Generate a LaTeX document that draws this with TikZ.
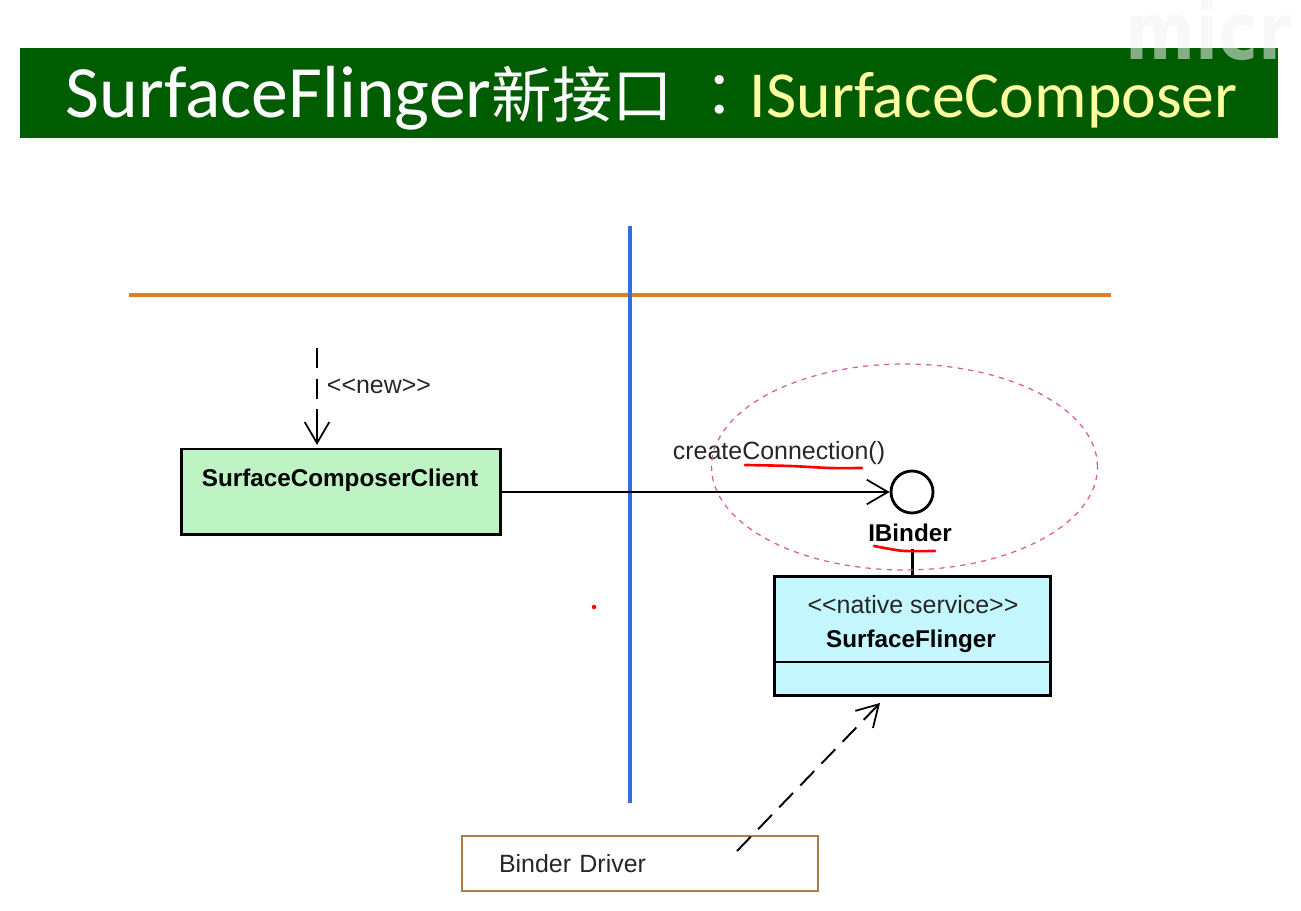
\documentclass[tikz,border=0pt]{standalone}
\usepackage{fontspec}
\setmainfont{Liberation Sans}
\newfontfamily\titlefont{Carlito}
\newfontfamily\titlecjk{Noto Sans CJK TC}
\newfontfamily\markfont{DejaVu Sans}
\usetikzlibrary{arrows.meta, shapes.geometric}
\definecolor{titlegreen}{RGB}{0,92,0}
\definecolor{titleyellow}{RGB}{255,255,160}
\definecolor{clientgreen}{RGB}{190,243,196}
\definecolor{flingerblue}{RGB}{196,247,255}
\definecolor{driverbrown}{RGB}{170,125,75}
\definecolor{ovalpink}{RGB}{214,90,160}
\definecolor{lineorange}{RGB}{226,125,30}
\definecolor{lineblue}{RGB}{50,110,225}
\tikzset{
	classbox/.style={draw=black, line width=1.7pt, minimum width=#1, inner sep=0pt},
	plainlabel/.style={font=\fontsize{14.2}{17}\selectfont, inner sep=0pt, text=black!85},
	boldlabel/.style={font=\fontsize{13.8}{16}\selectfont\bfseries, inner sep=0pt},
	barb/.style={-{Straight Barb[length=12pt, width=14pt, line width=1pt]}},
	pen/.style={red, line width=1.5pt, line cap=round},
}
\begin{document}
\begin{tikzpicture}[x=0.02cm, y=-0.02cm]
	\useasboundingbox (0,0) rectangle (1301,911);

	\node[fill=titlegreen, minimum width=25.16cm, minimum height=1.8cm, inner sep=0pt, text=white, font=\titlefont] (titlebar) at (649,93) {\raisebox{-14.2pt}[0pt][0pt]{\hspace{3pt}\fontsize{42}{46}\selectfont SurfaceFlinger{\titlecjk\fontsize{34.4}{46}\selectfont 新接口\hspace{9.4pt}：}\textcolor{titleyellow}{\fontsize{37.4}{46}\selectfont ISurfaceComposer}}};
	\node[text=black!5, text opacity=0.55, font=\fontsize{45}{54}\selectfont\markfont\bfseries, anchor=base west, inner sep=0pt, xscale=0.85] (watermark) at (1125,60) {micr};

	\coordinate (orangeleft) at (129,295);
	\coordinate (orangeright) at (1111,295);
	\coordinate (bluetop) at (630,226);
	\coordinate (bluebottom) at (630,803);
	\draw[lineorange, line width=2pt] (orangeleft) -- (orangeright);
	\draw[lineblue, line width=2pt] (bluetop) -- (bluebottom);

	\node[classbox=6.4cm, minimum height=1.72cm, fill=clientgreen] (client) at (341,492) {};
	\node[boldlabel] (clientname) at (340,480) {SurfaceComposerClient};

	\node[classbox=5.54cm, minimum height=2.4cm, fill=flingerblue] (flinger) at (912.5,636) {};
	\node[plainlabel] (stereotype) at (913,605) {<{}<native service>{}>};
	\node[boldlabel] (flingername) at (911,641) {SurfaceFlinger};
	\coordinate (dividerleft) at (774,662);
	\coordinate (dividerright) at (1051,662);
	\draw[line width=1pt] (dividerleft) -- (dividerright);

	\node[draw=black, circle, line width=1.6pt, minimum size=0.84cm, inner sep=0pt] (binder) at (912,492) {};
	\node[boldlabel] (bindername) at (910,533) {IBinder};
	\node[plainlabel] (createlabel) at (779,453) {createConnection()};
	\coordinate (binderfoot) at (913,549);
	\draw[line width=1.3pt] (flinger.north) -- (flinger.north |- binderfoot);
	\draw[line width=1pt, barb] (client.east |- binder.west) -- (binder.west);

	\coordinate (newstart) at (317,348);
	\coordinate (newbreak) at (317,410);
	\node[plainlabel] (newlabel) at (379,386) {<{}<new>{}>};
	\draw[line width=1.1pt, dash pattern=on 11.3pt off 6.2pt] (newstart) -- (newbreak);
	\draw[line width=1.1pt, barb, shorten >=1.5pt] (newbreak) -- (newbreak |- client.north);

	\node[draw=driverbrown, line width=1pt, minimum height=1.1cm, text width=5.64cm, plainlabel, inner xsep=0.74cm, inner ysep=0pt] (driver) at (640,863.5) {Binder Driver};
	\coordinate (driverstart) at (737,851);
	\coordinate (flingerpoint) at (880,703);
	\draw[line width=1.1pt, dash pattern=on 11.3pt off 6pt, barb] (driverstart) -- (flingerpoint);

	\node[draw=ovalpink, dashed, ellipse, line width=0.7pt, minimum width=7.72cm, minimum height=4.12cm, inner sep=0pt] (oval) at (904.5,467) {};

	\draw[pen] plot[smooth] coordinates {(745,465) (790,466) (830,468) (862,468)};
	\draw[pen] plot[smooth] coordinates {(874,546) (890,549) (905,551) (935,551)};
	\node[circle, fill=red, minimum size=0.09cm, inner sep=0pt] (reddot) at (594,607) {};
\end{tikzpicture}
\end{document}
